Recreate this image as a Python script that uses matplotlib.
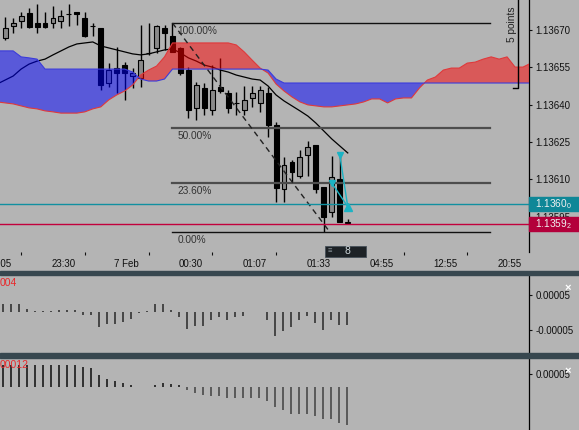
import numpy as np
import matplotlib.pyplot as plt
from matplotlib.patches import Rectangle
from matplotlib.transforms import blended_transform_factory as blend

plt.rcParams['font.family'] = ['Liberation Sans', 'DejaVu Sans']
plt.rcParams['mathtext.fontset'] = 'custom'
plt.rcParams['mathtext.rm'] = 'Liberation Sans'

BG = '#b4b4b4'

# --- candles (one per bar) ---
opens = [1.136668, 1.136716, 1.136736, 1.136768, 1.136728, 1.136728, 1.136728, 1.136736, 1.136766, 1.136772,
         1.136748, 1.136716, 1.136708, 1.136487, 1.136547, 1.136559, 1.136515, 1.136507, 1.136608, 1.136628,
         1.136708, 1.136676, 1.136628, 1.136539, 1.136387, 1.136467, 1.136379, 1.136471, 1.136447, 1.136407,
         1.136379, 1.136427, 1.136407, 1.136447, 1.136318, 1.136061, 1.136170, 1.136113, 1.136198, 1.136238,
         1.136069, 1.135969, 1.136101, 1.135924]
highs = [1.136752, 1.136748, 1.136772, 1.136788, 1.136804, 1.136772, 1.136796, 1.136780, 1.136804, 1.136772,
         1.136772, 1.136728, 1.136708, 1.136567, 1.136632, 1.136571, 1.136547, 1.136720, 1.136728, 1.136720,
         1.136720, 1.136728, 1.136632, 1.136551, 1.136491, 1.136487, 1.136559, 1.136588, 1.136459, 1.136451,
         1.136475, 1.136475, 1.136475, 1.136471, 1.136330, 1.136190, 1.136178, 1.136218, 1.136254, 1.136238,
         1.136069, 1.136194, 1.136198, 1.135940]
lows = [1.136660, 1.136688, 1.136708, 1.136708, 1.136688, 1.136708, 1.136708, 1.136708, 1.136716, 1.136720,
        1.136672, 1.136676, 1.136460, 1.136471, 1.136447, 1.136419, 1.136467, 1.136471, 1.136600, 1.136608,
        1.136620, 1.136612, 1.136519, 1.136346, 1.136338, 1.136358, 1.136358, 1.136447, 1.136366, 1.136358,
        1.136358, 1.136391, 1.136371, 1.136270, 1.136009, 1.136009, 1.136085, 1.136105, 1.136113, 1.136045,
        1.135888, 1.135948, 1.135928, 1.135920]
closes = [1.136708, 1.136728, 1.136756, 1.136712, 1.136712, 1.136712, 1.136748, 1.136756, 1.136766, 1.136766,
          1.136676, 1.136716, 1.136479, 1.136539, 1.136527, 1.136527, 1.136527, 1.136579, 1.136608, 1.136716,
          1.136688, 1.136612, 1.136527, 1.136379, 1.136479, 1.136387, 1.136459, 1.136455, 1.136387, 1.136407,
          1.136419, 1.136447, 1.136459, 1.136318, 1.136065, 1.136158, 1.136130, 1.136190, 1.136230, 1.136061,
          1.135948, 1.136109, 1.135928, 1.135928]

# moving average (first value belongs to the bar just left of the view)
ma_line = [1.136483,
           1.136499, 1.136515, 1.136543, 1.136563, 1.136575, 1.136583, 1.136600, 1.136616, 1.136632, 1.136644,
           1.136648, 1.136652, 1.136636, 1.136628, 1.136620, 1.136612, 1.136604, 1.136600, 1.136604, 1.136612,
           1.136620, 1.136624, 1.136608, 1.136588, 1.136575, 1.136559, 1.136551, 1.136539, 1.136531, 1.136519,
           1.136511, 1.136503, 1.136499, 1.136475, 1.136439, 1.136415, 1.136395, 1.136375, 1.136354, 1.136326,
           1.136294, 1.136262, 1.136234, 1.136206]

# ichimoku cloud (shifted forward; first value is just left of the view)
span_a = [1.136411,
          1.136407, 1.136403, 1.136395, 1.136387, 1.136383, 1.136375, 1.136371, 1.136366, 1.136366, 1.136366,
          1.136371, 1.136383, 1.136391, 1.136419, 1.136439, 1.136455, 1.136479, 1.136519, 1.136539, 1.136555,
          1.136592, 1.136648, 1.136648, 1.136648, 1.136648, 1.136648, 1.136648, 1.136648, 1.136648, 1.136640,
          1.136612, 1.136579, 1.136547, 1.136527, 1.136483, 1.136455, 1.136431, 1.136411, 1.136399, 1.136395,
          1.136391, 1.136391, 1.136395, 1.136399, 1.136403, 1.136411, 1.136423, 1.136423, 1.136407, 1.136423,
          1.136427, 1.136427, 1.136467, 1.136499, 1.136511, 1.136539, 1.136547, 1.136547, 1.136567, 1.136571,
          1.136583, 1.136592, 1.136583, 1.136592, 1.136551, 1.136551, 1.136567]
span_b = [1.136616,
          1.136616, 1.136616, 1.136592, 1.136588, 1.136583, 1.136543, 1.136543, 1.136543, 1.136543, 1.136543,
          1.136543, 1.136543, 1.136543, 1.136543, 1.136543, 1.136543, 1.136531, 1.136503, 1.136495, 1.136495,
          1.136503, 1.136543, 1.136543, 1.136543, 1.136543, 1.136543, 1.136543, 1.136543, 1.136543, 1.136543,
          1.136543, 1.136543, 1.136543, 1.136539, 1.136503, 1.136487, 1.136487, 1.136487, 1.136487, 1.136487,
          1.136487, 1.136487, 1.136487, 1.136487, 1.136487, 1.136487, 1.136487, 1.136487, 1.136487, 1.136487,
          1.136487, 1.136487, 1.136487, 1.136487, 1.136487, 1.136487, 1.136487, 1.136487, 1.136487, 1.136487,
          1.136487, 1.136487, 1.136487, 1.136487, 1.136487, 1.136487, 1.136487]

# oscillators
osc1 = [2.3e-5, 2.3e-5, 2.3e-5, 1.1e-5, 0.4e-5, 0.3e-5, 0.3e-5, 0.6e-5, 0.6e-5, 0.6e-5,
        -0.6e-5, -0.6e-5, -4.3e-5, -3.4e-5, -3.4e-5, -2.6e-5, -2.0e-5, -0.3e-5, 0.3e-5, 2.3e-5,
        2.3e-5, 0.6e-5, -1.4e-5, -4.6e-5, -4.0e-5, -4.0e-5, -2.3e-5, -1.4e-5, -2.3e-5, -1.4e-5,
        -0.9e-5, 0.2e-5, 0.2e-5, -2.3e-5, -6.6e-5, -5.4e-5, -4.3e-5, -2.3e-5, -0.9e-5, -2.9e-5,
        -4.9e-5, -2.3e-5, -3.7e-5, -3.7e-5]
osc2 = [8.5e-5, 8.5e-5, 8.5e-5, 8.5e-5, 8.5e-5, 8.5e-5, 8.5e-5, 8.5e-5, 8.5e-5, 8.5e-5,
        7.7e-5, 7.3e-5, 4.8e-5, 3.2e-5, 2.3e-5, 1.3e-5, 0.6e-5, 0.0, 0.0, 0.8e-5,
        1.6e-5, 1.2e-5, 0.6e-5, -1.3e-5, -2.4e-5, -3.6e-5, -4.0e-5, -4.0e-5, -4.7e-5, -4.7e-5,
        -4.7e-5, -4.7e-5, -4.7e-5, -6.0e-5, -8.3e-5, -9.3e-5, -10.9e-5, -10.9e-5, -10.9e-5, -11.7e-5,
        -12.9e-5, -12.9e-5, -14.5e-5, -15.3e-5]

fib_high = 1.136728
fib_low = 1.135888
fib_start, fib_end, fib_trend_end = 21, 60.9, 40.75
fib_levels = [1.0, 0.5, 0.236, 0.0]
fib_names = ['100.00%', '50.00%', '23.60%', '0.00%']

ask_price = 1.13600
bid_price = 1.13592
trade_open_x = [41, 42]
trade_open_y = [1.136085, 1.136198]
trade_close_x = 43
trade_close_y = 1.135990
countdown = '8'

price_ticks = [1.13595, 1.13610, 1.13625, 1.13640, 1.13655, 1.13670]
time_labels = ['23:05', '23:30', '7 Feb', '00:30', '01:07', '01:33', '04:55', '12:55', '20:55']
time_label_pos = [-0.65, 7.33, 15.25, 23.3, 31.3, 39.3, 47.25, 55.25, 63.3]
time_tick_pos = [2, 10, 18, 26, 34, 42, 50, 58]

# --- layout ---
W, H = 579, 430
fig = plt.figure(figsize=(W / 100, H / 100), dpi=100, facecolor=BG)


def frame(top, bottom, right=529):
    return [0, 1 - bottom / H, right / W, (bottom - top) / H]


ax = fig.add_axes(frame(0, 252))
ax1 = fig.add_axes(frame(275, 353))
ax2 = fig.add_axes(frame(358, 430))

for a in (ax, ax1, ax2):
    a.set_facecolor(BG)
    for s in ('top', 'left', 'bottom'):
        a.spines[s].set_visible(False)
    a.spines['right'].set_color('black')
    a.spines['right'].set_linewidth(0.9)
    a.yaxis.tick_right()
    a.tick_params(axis='y', length=2.5, width=0.8, pad=2, labelsize=7, colors='#111111')
    a.set_xlim(-0.375, 65.75)

# --- main price panel ---
n = len(opens)
x = np.arange(n)
ax.vlines(x, lows, highs, color='black', lw=1.0, zorder=2)
for i in range(n):
    o, c = opens[i], closes[i]
    fill = '#8a8a8a' if c > o else 'black'
    ax.bar(i, abs(c - o), bottom=min(o, c), width=0.62, color=fill,
           edgecolor='black', linewidth=0.8, zorder=2.1)

ax.plot(np.arange(len(ma_line)) - 1, ma_line, color='black', lw=0.9, zorder=2.5)

xc = np.arange(len(span_a)) - 1
sa, sb = np.array(span_a), np.array(span_b)
ax.fill_between(xc, sa, sb, where=sa >= sb, interpolate=True, color='#ff0000', alpha=0.5, lw=0, zorder=3)
ax.fill_between(xc, sa, sb, where=sa <= sb, interpolate=True, color='#0000ff', alpha=0.5, lw=0, zorder=3)
ax.plot(xc, sa, color='#e0393b', lw=0.8, zorder=3.1)
ax.plot(xc, sb, color='#3b3bdb', lw=0.8, zorder=3.1)

# fibonacci retracement
for lvl, name in zip(fib_levels, fib_names):
    p = fib_low + (fib_high - fib_low) * lvl
    edge = lvl in (0.0, 1.0)
    ax.plot([fib_start, fib_end], [p, p], color='#111111' if edge else '#4d4d4d',
            lw=1.0 if edge else 1.6, zorder=4)
    ax.annotate(name, (fib_start, p), xytext=(5, -3), textcoords='offset pixels',
                ha='left', va='top', fontsize=7.3, color='#333333', zorder=4)
ax.plot([fib_start, fib_trend_end], [fib_high, fib_low], color='#222222', lw=1.0,
        dashes=(4, 3), zorder=4)

# bid / ask lines
ax.axhline(ask_price, color='#1190a0', lw=1.0, zorder=4)
ax.axhline(bid_price, color='#c2003c', lw=1.0, zorder=4)

# trades
for tx, ty in zip(trade_open_x, trade_open_y):
    ax.plot([tx, trade_close_x], [ty, trade_close_y], color='#1bb3c4', lw=1.0, zorder=5)
ax.plot(trade_open_x, trade_open_y, 'v', color='#1bb3c4', ms=5, zorder=5)
ax.plot([trade_close_x], [trade_close_y], '^', color='#1bb3c4', ms=6, zorder=5)

ax.set_ylim(1.1358078, 1.1368206)
ax.set_yticks(price_ticks, [f'{t:.5f}' for t in price_ticks])
ax.set_xticks(time_label_pos, time_labels)
ax.set_xticks(time_tick_pos, minor=True)
ax.tick_params(axis='x', which='major', length=0, pad=5, labelsize=7, colors='#111111')
ax.tick_params(axis='x', which='minor', length=2.5, width=0.8, color='#111111')

# price boxes on the axis
ybt = blend(ax.transAxes, ax.transData)
box_h = 5.6e-5
for price, txt, col in [(ask_price, r'$\mathregular{1.1360_0}$', '#0f8797'),
                        (bid_price, r'$\mathregular{1.1359_2}$', '#b3003b')]:
    ax.add_patch(Rectangle((1.0, price - box_h / 2), 50 / 529, box_h, transform=ybt,
                           color=col, clip_on=False, zorder=10))
    ax.text(1.0 + 6 / 529, price, txt, transform=ybt, ha='left', va='center',
            fontsize=7.3, color='#f0f0f0', zorder=11, clip_on=False)

# "5 points" ruler
ax.plot([518 / 529, 518 / 529, 513 / 529], [1.0, 0.651, 0.651], transform=ax.transAxes,
        color='black', lw=1.0, clip_on=False, zorder=6)
ax.text(512 / 529, 0.905, '5 points', transform=ax.transAxes, rotation=90,
        ha='center', va='center', fontsize=7.3, color='#222222')

# countdown bubble under last bar
xbt = blend(ax.transData, ax.transAxes)
ax.add_patch(Rectangle((40.125, -0.02), 5.125, 0.044, transform=xbt, facecolor='#1d2226',
                       edgecolor='#46505a', lw=0.6, clip_on=False, zorder=10))
ax.text(n - 1, 0.002, countdown, transform=xbt, ha='center', va='center',
        fontsize=7.5, color='#cfd8dc', zorder=11, clip_on=False)
ax.text(40.8, 0.002, '≡', transform=xbt, ha='center', va='center',
        fontsize=5.5, color='#8a949a', zorder=11, clip_on=False)

# --- oscillator panels ---
ax1.vlines(x, 0, osc1, color='#333333', lw=1.2)
ax1.set_ylim(-11.6e-5, 10.7e-5)
ax1.set_yticks([5e-5, -5e-5], ['0.00005', '-0.00005'])
ax1.set_xticks([])
ax1.text(0, 1 - 7.5 / 78, '004', transform=ax1.transAxes, ha='left', va='center',
         fontsize=7.5, color='#e8282b')
ax1.text(568 / 529, 1 - 13 / 78, '×', transform=ax1.transAxes, ha='center', va='center',
         fontsize=8, color='white', fontweight='bold', clip_on=False)

ax2.vlines(x, 0, osc2, color=['#1a1a1a' if v > 0 else '#4a4a4a' for v in osc2], lw=1.2)
ax2.set_ylim(-17.5e-5, 11.5e-5)
ax2.set_yticks([5e-5], ['0.00005'])
ax2.set_xticks([])
ax2.text(0, 1 - 7.5 / 72, '00012', transform=ax2.transAxes, ha='left', va='center',
         fontsize=7.5, color='#e8282b')
ax2.text(568 / 529, 1 - 13 / 72, '×', transform=ax2.transAxes, ha='center', va='center',
         fontsize=8, color='white', fontweight='bold', clip_on=False)

# panel separators
for top, h in [(270.5, 4.5), (353, 4.7)]:
    fig.add_artist(Rectangle((0, 1 - (top + h) / H), 1, h / H, transform=fig.transFigure,
                             color='#37474f'))

fig.savefig('out.png', dpi=100, facecolor=BG)
